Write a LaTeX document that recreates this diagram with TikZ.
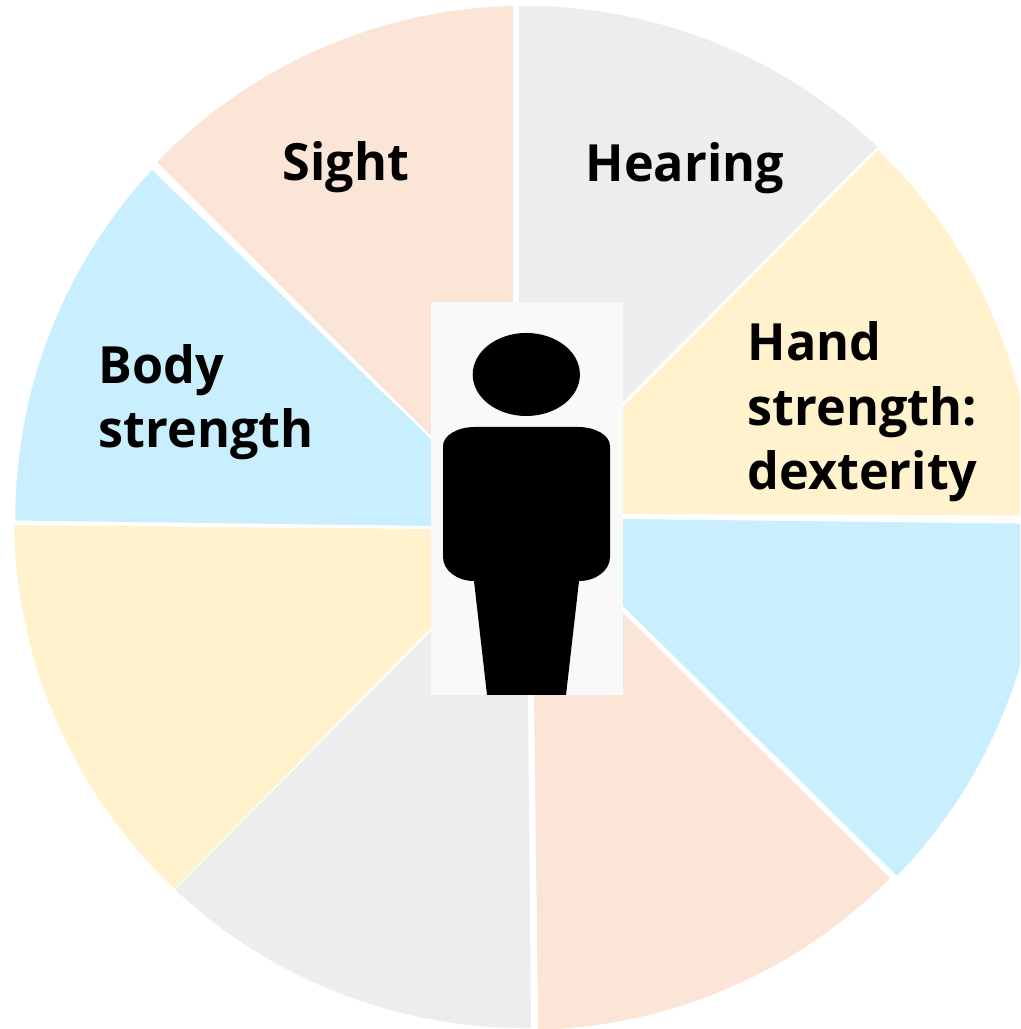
\documentclass[tikz,border=0pt]{standalone}
\usepackage{fontspec}
\setmainfont[FakeStretch=0.98]{Open Sans}
\usepackage{xcolor}
\definecolor{peach}{HTML}{FBE5D6}
\definecolor{ash}{HTML}{EDEDED}
\definecolor{sand}{HTML}{FFF2CC}
\definecolor{sky}{HTML}{C9EFFF}
\definecolor{paper}{HTML}{F9F9F9}
\tikzset{
  sense/.style={font=\fontsize{14.6pt}{18.3pt}\selectfont\bfseries,align=left,inner sep=0pt,anchor=west,text=black},
  figure/.style={fill=black},
}
\begin{document}
\begin{tikzpicture}
\clip (0,0) rectangle (10.20,10.29);
% sectors, clockwise from the top
\fill[ash] (5.19,10.23) arc[start angle=90.67,end angle=46.4,radius=5.11] -- (6.22,6.26) -- (5.19,7.27) -- cycle;
\fill[sand] (8.78,8.79) arc[start angle=46.1,end angle=0.3,radius=5.11] -- (6.22,5.15) -- (6.22,6.21) -- cycle;
\fill[sky] (8.97,1.53) arc[start angle=-44,end angle=-0.7,radius=5.16] -- (6.22,5.10) -- (6.22,4.24) -- cycle;
\fill[peach] (8.90,1.51) arc[start angle=-44.7,end angle=-88.65,radius=5.12] -- (5.34,3.34) -- (6.22,4.17) -- cycle;
\fill[ash] (5.31,0.01) arc[start angle=270.7,end angle=226.8,radius=5.11] -- (4.32,3.99) -- (5.28,3.34) -- cycle;
\fill[sand] (0.14,5.04) arc[start angle=180.9,end angle=226.7,radius=5.11] -- (4.32,4.02) -- (4.32,5.00) -- cycle;
\fill[sky] (1.52,8.59) arc[start angle=137.1,end angle=180.3,radius=5.11] -- (4.32,5.03) -- (4.32,5.89) -- cycle;
\fill[peach] (5.13,10.23) arc[start angle=91.35,end angle=136.03,radius=5.11] -- (4.32,5.92) -- (5.13,7.27) -- cycle;
% person in the middle
\fill[paper] (4.31,3.34) rectangle (6.23,7.27);
\fill[figure] (5.263,6.545) ellipse[x radius=0.536,y radius=0.415];
\fill[figure] (4.43,5.83) arc[start angle=180,end angle=90,x radius=0.32,y radius=0.19] -- (5.78,6.02)
  arc[start angle=90,end angle=0,x radius=0.32,y radius=0.19] -- (6.10,4.72)
  arc[start angle=0,end angle=-90,x radius=0.31,y radius=0.24] -- (5.66,3.34) -- (4.87,3.34) -- (4.74,4.48)
  arc[start angle=270,end angle=180,x radius=0.31,y radius=0.24] -- cycle;
% labels
\node[sense] (sight) at (2.82,8.62) {Sight};
\node[sense] (hearing) at (5.85,8.61) {Hearing};
\node[sense] (hand) at (7.47,6.17) {Hand\\strength:\\dexterity};
\node[sense] (body) at (0.98,6.27) {Body\\strength};
\end{tikzpicture}
\end{document}
